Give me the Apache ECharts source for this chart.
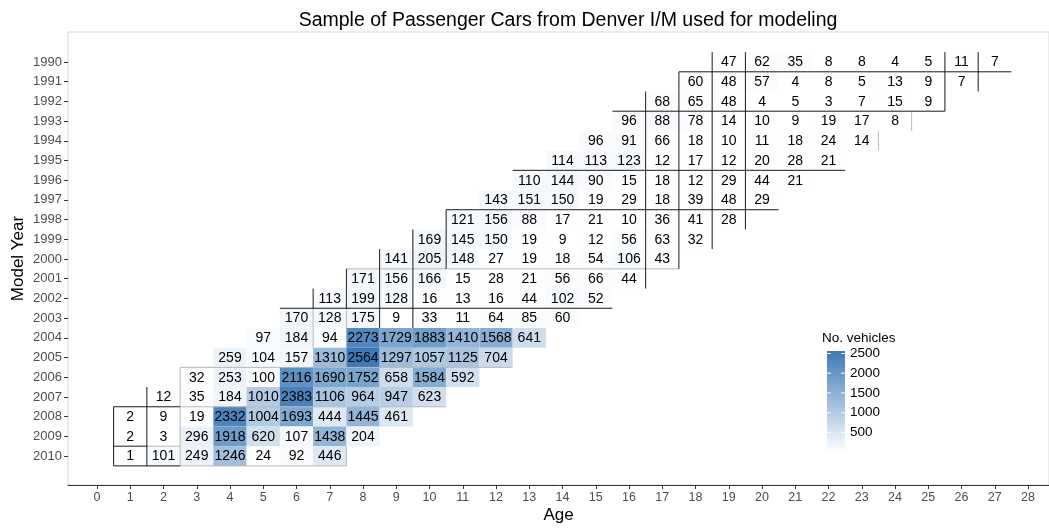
<!DOCTYPE html>
<html>
<head>
<meta charset="utf-8">
<script src="https://cdn.jsdelivr.net/npm/echarts@6/dist/echarts.min.js"></script>
<style>
  html, body { margin: 0; padding: 0; background: #ffffff; }
  #chart { width: 1049px; height: 529px; }
</style>
</head>
<body>
<div id="chart"></div>
<script>
// Model years (rows, top to bottom) and the age of the first cell in each row
const modelYears = [1990, 1991, 1992, 1993, 1994, 1995, 1996, 1997, 1998, 1999, 2000,
                    2001, 2002, 2003, 2004, 2005, 2006, 2007, 2008, 2009, 2010];
const firstAge = [19, 18, 17, 16, 15, 14, 13, 12, 11, 10, 9, 8, 7, 6, 5, 4, 3, 2, 1, 1, 1];

// Vehicle counts per model year, consecutive ages starting at firstAge
const counts1990 = [47, 62, 35, 8, 8, 4, 5, 11, 7];
const counts1991 = [60, 48, 57, 4, 8, 5, 13, 9, 7];
const counts1992 = [68, 65, 48, 4, 5, 3, 7, 15, 9];
const counts1993 = [96, 88, 78, 14, 10, 9, 19, 17, 8];
const counts1994 = [96, 91, 66, 18, 10, 11, 18, 24, 14];
const counts1995 = [114, 113, 123, 12, 17, 12, 20, 28, 21];
const counts1996 = [110, 144, 90, 15, 18, 12, 29, 44, 21];
const counts1997 = [143, 151, 150, 19, 29, 18, 39, 48, 29];
const counts1998 = [121, 156, 88, 17, 21, 10, 36, 41, 28];
const counts1999 = [169, 145, 150, 19, 9, 12, 56, 63, 32];
const counts2000 = [141, 205, 148, 27, 19, 18, 54, 106, 43];
const counts2001 = [171, 156, 166, 15, 28, 21, 56, 66, 44];
const counts2002 = [113, 199, 128, 16, 13, 16, 44, 102, 52];
const counts2003 = [170, 128, 175, 9, 33, 11, 64, 85, 60];
const counts2004 = [97, 184, 94, 2273, 1729, 1883, 1410, 1568, 641];
const counts2005 = [259, 104, 157, 1310, 2564, 1297, 1057, 1125, 704];
const counts2006 = [32, 253, 100, 2116, 1690, 1752, 658, 1584, 592];
const counts2007 = [12, 35, 184, 1010, 2383, 1106, 964, 947, 623];
const counts2008 = [2, 9, 19, 2332, 1004, 1693, 444, 1445, 461];
const counts2009 = [2, 3, 296, 1918, 620, 107, 1438, 204];
const counts2010 = [1, 101, 249, 1246, 24, 92, 446];

const countsByYear = [counts1990, counts1991, counts1992, counts1993, counts1994, counts1995,
  counts1996, counts1997, counts1998, counts1999, counts2000, counts2001, counts2002,
  counts2003, counts2004, counts2005, counts2006, counts2007, counts2008, counts2009, counts2010];

// Axis tick labels
const ageTicks = [0,1,2,3,4,5,6,7,8,9,10,11,12,13,14,15,16,17,18,19,20,21,22,23,24,25,26,27,28];
const yearTicks = modelYears;
const legendBreaks = [500, 1000, 1500, 2000, 2500];

// Group boundaries in data units.
// Horizontal: [year edge, age from, age to]; vertical: [age edge, year from, year to]
const hBordersDark = [
  [1990.5, 17.5, 27.5], [1992.5, 15.5, 25.5], [1995.5, 12.5, 22.5], [1997.5, 10.5, 20.5],
  [2002.5, 5.5, 15.5], [2007.5, 0.5, 2.5], [2009.5, 0.5, 1.5], [2010.5, 0.5, 2.5]
];
const hBordersLight = [
  [2000.5, 7.5, 17.5], [2005.5, 2.5, 12.5], [2007.5, 2.5, 10.5], [2009.5, 1.5, 2.5],
  [2010.5, 2.5, 7.5]
];
const vBordersDark = [
  [0.5, 2007.5, 2010.5], [1.5, 2006.5, 2010.5], [6.5, 2001.5, 2002.5], [7.5, 2000.5, 2002.5],
  [8.5, 1999.5, 2003.5], [9.5, 1998.5, 2003.5], [10.5, 1997.5, 2000.5], [16.5, 1991.5, 2001.5],
  [17.5, 1990.5, 2000.5], [18.5, 1989.5, 1999.5], [19.5, 1989.5, 1998.5], [25.5, 1989.5, 1992.5],
  [26.5, 1989.5, 1991.5]
];
const vBordersLight = [
  [2.5, 2005.5, 2010.5], [6.5, 2002.5, 2004.5], [7.5, 2002.5, 2003.5], [7.5, 2009.5, 2010.5],
  [23.5, 1993.5, 1994.5], [24.5, 1992.5, 1993.5]
];

// Build [age, year, count] cells
const cells = [];
countsByYear.forEach(function (row, i) {
  row.forEach(function (v, j) { cells.push([firstAge[i] + j, modelYears[i], v]); });
});
let vMin = Infinity, vMax = -Infinity;
cells.forEach(function (c) { vMin = Math.min(vMin, c[2]); vMax = Math.max(vMax, c[2]); });

function toSegments(hList, vList) {
  const out = [];
  hList.forEach(function (h) { out.push([h[1], h[0], h[2], h[0]]); });
  vList.forEach(function (v) { out.push([v[0], v[1], v[0], v[2]]); });
  return out;
}
const darkSegments = toSegments(hBordersDark, vBordersDark);
const lightSegments = toSegments(hBordersLight, vBordersLight);

const FONT = '"Liberation Sans", Arial, sans-serif';
const lowColor = '#ffffff';
const highColor = '#3d79b6';

const chart = echarts.init(document.getElementById('chart'), null, { renderer: 'canvas' });

function renderCell(params, api) {
  const a = api.value(0), y = api.value(1), v = api.value(2);
  const p0 = api.coord([a - 0.5, y - 0.5]);
  const p1 = api.coord([a + 0.5, y + 0.5]);
  const x0 = Math.min(p0[0], p1[0]), y0 = Math.min(p0[1], p1[1]);
  return {
    type: 'group',
    children: [
      { type: 'rect', shape: { x: x0, y: y0, width: Math.abs(p1[0] - p0[0]), height: Math.abs(p1[1] - p0[1]) },
        style: { fill: api.visual('color') } },
      { type: 'text', x: (p0[0] + p1[0]) / 2, y: (p0[1] + p1[1]) / 2 + 0.5,
        style: { text: String(v), fill: '#000000', font: '14px ' + FONT, align: 'center', verticalAlign: 'middle' } }
    ]
  };
}

function segmentRenderer(color) {
  return function (params, api) {
    const p0 = api.coord([api.value(0), api.value(1)]);
    const p1 = api.coord([api.value(2), api.value(3)]);
    return {
      type: 'line',
      shape: { x1: p0[0], y1: p0[1], x2: p1[0], y2: p1[1] },
      style: { stroke: color, lineWidth: 1 }
    };
  };
}

// Colour bar legend, drawn from the same value range as the fill scale
const barX = 827, barW = 18, barTop = 351, barH = 101;
function barY(v) { return barTop + (vMax - v) / (vMax - vMin) * barH; }
const legendGraphics = [
  { type: 'text', left: 822, top: 331,
    style: { text: 'No. vehicles', font: '13.5px ' + FONT, fill: '#000000' } },
  { type: 'rect', shape: { x: barX, y: barTop, width: barW, height: barH },
    style: { fill: new echarts.graphic.LinearGradient(0, 0, 0, 1, [
      { offset: 0, color: highColor }, { offset: 1, color: lowColor }]) } }
];
legendBreaks.forEach(function (b) {
  const yy = barY(b);
  legendGraphics.push({ type: 'line', shape: { x1: barX, y1: yy, x2: barX + 4, y2: yy }, style: { stroke: '#ffffff', lineWidth: 1 } });
  legendGraphics.push({ type: 'line', shape: { x1: barX + barW - 4, y1: yy, x2: barX + barW, y2: yy }, style: { stroke: '#ffffff', lineWidth: 1 } });
  legendGraphics.push({ type: 'text', x: barX + barW + 5, y: yy,
    style: { text: String(b), font: '13.5px ' + FONT, fill: '#000000', verticalAlign: 'middle' } });
});

chart.setOption({
  animation: false,
  backgroundColor: '#ffffff',
  title: {
    text: 'Sample of Passenger Cars from Denver I/M used for modeling',
    left: 563, top: 6, textAlign: 'center',
    textStyle: { fontFamily: FONT, fontSize: 19.5, fontWeight: 'normal', color: '#000000' }
  },
  grid: { left: 68, right: 0, top: 32, bottom: 44, outerBoundsMode: 'none', containLabel: false,
    show: true, borderColor: '#d6d6d6', borderWidth: 1, backgroundColor: 'transparent' },
  xAxis: {
    type: 'value', min: -0.872, max: 28.63,
    name: 'Age', nameLocation: 'middle', nameGap: 22, nameMoveOverlap: false,
    nameTextStyle: { fontFamily: FONT, fontSize: 17, color: '#000000' },
    axisLine: { show: true, onZero: false, lineStyle: { color: '#333333', width: 1 } },
    axisTick: { show: true, length: 4, customValues: ageTicks, lineStyle: { color: '#333333' } },
    axisLabel: { customValues: ageTicks, formatter: function (v) { return String(v); },
      fontFamily: FONT, fontSize: 12.5, color: '#4d4d4d', margin: 6 },
    splitLine: { show: false }
  },
  yAxis: {
    type: 'value', min: 1988.48, max: 2011.47, inverse: true,
    name: 'Model Year', nameLocation: 'middle', nameGap: 41, nameRotate: 90, nameMoveOverlap: false,
    nameTextStyle: { fontFamily: FONT, fontSize: 17, color: '#000000' },
    axisLine: { show: false, onZero: false },
    axisTick: { show: true, length: 4, customValues: yearTicks, lineStyle: { color: '#333333' } },
    axisLabel: { customValues: yearTicks, formatter: function (v) { return String(v); },
      fontFamily: FONT, fontSize: 13, color: '#4d4d4d', margin: 6 },
    splitLine: { show: false }
  },
  visualMap: {
    show: false, type: 'continuous', min: vMin, max: vMax, dimension: 2, seriesIndex: 0,
    inRange: { color: [lowColor, highColor] }
  },
  graphic: legendGraphics,
  series: [
    {
      type: 'custom', name: 'cells', renderItem: renderCell,
      dimensions: ['age', 'year', 'count'],
      encode: { x: 0, y: 1 },
      data: cells, z: 2
    },
    {
      type: 'custom', name: 'light borders', renderItem: segmentRenderer('#b8b8b8'),
      dimensions: ['x1', 'y1', 'x2', 'y2'],
      encode: { x: [0, 2], y: [1, 3] },
      data: lightSegments, z: 3, silent: true
    },
    {
      type: 'custom', name: 'dark borders', renderItem: segmentRenderer('#1a1a1a'),
      dimensions: ['x1', 'y1', 'x2', 'y2'],
      encode: { x: [0, 2], y: [1, 3] },
      data: darkSegments, z: 4, silent: true
    }
  ]
});
</script>
</body>
</html>
